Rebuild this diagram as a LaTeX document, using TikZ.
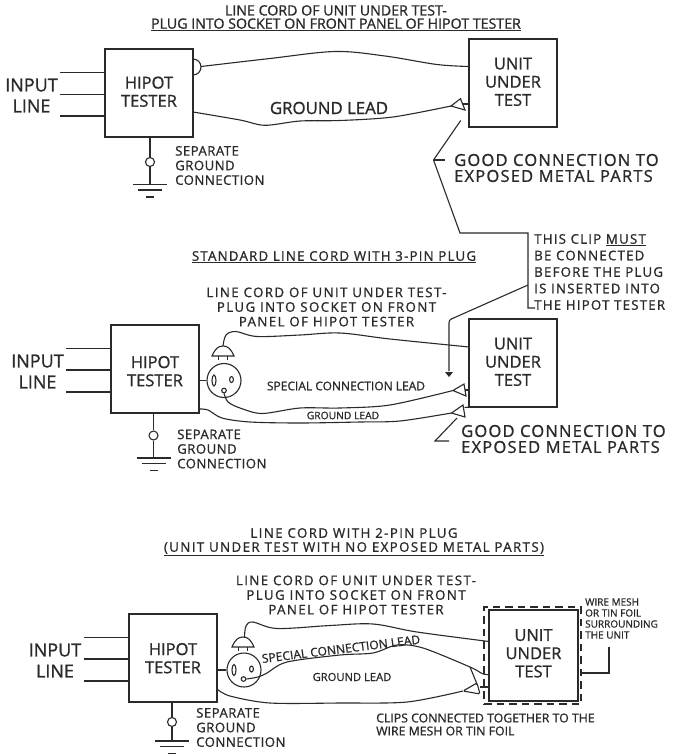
\documentclass[tikz,border=0pt]{standalone}
\usepackage{fontspec}
\setmainfont[FakeBold=1]{Open Sans}
\newfontfamily\lsa[LetterSpace=3.5,FakeBold=1]{Open Sans}
\newfontfamily\lsfont[LetterSpace=9,FakeBold=1]{Open Sans}
\newfontfamily\lswide[LetterSpace=10.5,FakeBold=1]{Open Sans}
\newfontfamily\lsbig[LetterSpace=7.3,FakeBold=1]{Open Sans}
\definecolor{ink}{HTML}{2A2A2A}
\newcommand{\boxtext}[2]{\raisebox{#1}[\height][\depth]{\begin{tabular}{@{}c@{}}#2\end{tabular}}}
\tikzset{
  every picture/.style={x=1pt,y=-1pt},
  lw/.style={line width=1.1pt,draw=ink},
  boxn/.style={draw=ink,line width=1.4pt,minimum width=88pt,minimum height=88pt,inner sep=0pt,text=ink,align=center,
     font=\fontsize{16.5}{18.2}\selectfont},
  txt/.style={inner sep=0pt,text=ink,align=center},
  txl/.style={inner sep=0pt,text=ink,align=left,anchor=west},
  hole/.style={circle,draw=ink,line width=1.1pt,inner sep=0pt,minimum size=9pt},
  pin/.style={circle,draw=ink,line width=1.1pt,inner sep=0pt,minimum size=4.6pt},
  sock/.style={circle,draw=ink,line width=1.1pt,inner sep=0pt,minimum size=34pt},
  big/.style={font=\fontsize{18}{21}\selectfont},
  sep/.style={font=\lsa\fontsize{13.2}{14.6}\selectfont},
  cord/.style={font=\lswide\fontsize{13.3}{14.6}\selectfont},
  good/.style={font=\lsbig\fontsize{16.5}{16}\selectfont},
}
\newcommand{\gndsym}[3]{% name, x, y of top bar
  \draw[lw] (#2-17,#3)--(#2+17,#3) (#2-12,#3+5.5)--(#2+12,#3+5.5) (#2-4,#3+12.5)--(#2+4,#3+12.5);
}
\newcommand{\plugsym}[2]{% x, y of dome top
  \draw[lw] (#1-11,#2+10) .. controls (#1-8,#2+3) and (#1-5,#2) .. (#1,#2) .. controls (#1+5,#2) and (#1+8,#2+3) .. (#1+11,#2+10) -- cycle;
  \draw[lw] (#1-4.5,#2+10)--(#1-4.5,#2+14) (#1+4.5,#2+10)--(#1+4.5,#2+14);
}
\newcommand{\slots}[2]{% centre of socket
  \draw[lw] (#1-10,#2) ellipse (2 and 5.5);
  \draw[lw] (#1+7.5,#2-1) ellipse (1.9 and 3);
}
\begin{document}
\begin{tikzpicture}
\useasboundingbox (0,0) rectangle (673,755);
\fill[white] (0,0) rectangle (673,755);

%%%%% PANEL 1
\node[txt,font=\fontsize{14.2}{13.2}\selectfont] (t1) at (336,18) {LINE CORD OF UNIT UNDER TEST-\\\underline{PLUG INTO SOCKET ON FRONT PANEL OF HIPOT TESTER}};
\node[boxn] (h1) at (149,93) {\boxtext{-1pt}{HIPOT\\TESTER}};
\node[boxn] (u1) at (513,83) {\boxtext{-1pt}{UNIT\\UNDER\\TEST}};
\node[txt,big] (i1) at (31.5,95.5) {INPUT\\LINE};
\node[txt,font=\fontsize{16.8}{18}\selectfont] (gl1) at (329,108) {GROUND LEAD};
\node[txl,sep] (s1) at (175,165.5) {SEPARATE\\GROUND\\CONNECTION};
\node[txl,good] (g1) at (454,168) {GOOD CONNECTION TO\\EXPOSED METAL PARTS};
\foreach \k/\yy in {a/72.5,b/94.5,c/116}{
  \coordinate (i1\k) at (60,\yy);
  \draw[lw] (i1\k) -- (h1.west |- i1\k);
}
% socket half circle
\coordinate (d1a) at (193,59);
\draw[lw] (d1a) arc[start angle=-90,end angle=90,radius=8];
\coordinate (w1s) at (201,66.5);
\coordinate (w1e) at (469,66.5);
\draw[lw] plot[smooth,tension=.55] coordinates {(w1s) (270,58.5) (335,51.5) (385,56) (437,64.5) (w1e)};
% ground lead and clip
\coordinate (w2s) at (193,112);
\coordinate (c1a) at (451,106);
\coordinate (c1b) at (460.5,98.7);
\coordinate (c1c) at (465,110);
\coordinate (c1d) at (463,104);
\coordinate (c1e) at (469,104);
\draw[lw] plot[smooth,tension=.5] coordinates {(w2s) (240,120) (265,125.3) (300,121) (340,120.5) (393,117) (c1a)};
\draw[lw] (c1a) -- (c1b) -- (c1c) -- cycle;
\draw[lw] (c1d) -- (c1e);
% earth
\node[hole] (p1) at (150,162) {};
\coordinate (e1) at (150,184.5);
\draw[lw] (h1.south -| p1) -- (p1);
\draw[lw] (p1) -- (e1);
\gndsym{e1}{150}{184.5}
% annotation leader
\coordinate (a1) at (460.7,120.5);
\coordinate (a2) at (433.5,160);
\coordinate (a3) at (445,160);
\coordinate (a4) at (460,233);
\coordinate (a5) at (528,233);
\coordinate (a6) at (528,308);
\coordinate (a7) at (535,308);
\coordinate (a8) at (528,285);
\coordinate (a9) at (449,320);
\coordinate (a10) at (449,377);
\draw[lw] (a1) -- (a2) -- (a4) -- (a5) -- (a6) -- (a7);
\draw[lw] (a2) -- (a3);
\draw[lw,rounded corners=2.5pt] (a8) -- (a9) -- (449,371);
\fill[ink] (a10) -- (445,372) -- (453,372) -- cycle;
\node[txl,font=\lsfont\fontsize{13.3}{16.5}\selectfont] (n1) at (534,272) {THIS CLIP \underline{MUST}\\BE CONNECTED\\BEFORE THE PLUG\\IS INSERTED INTO\\THE HIPOT TESTER};

%%%%% PANEL 2
\node[txt,font=\lsfont\fontsize{13.3}{14}\selectfont] (t2) at (334,257) {\underline{STANDARD LINE CORD WITH 3-PIN PLUG}};
\node[txt,cord] (c2) at (326.5,307) {LINE CORD OF UNIT UNDER TEST-\\PLUG INTO SOCKET ON FRONT\\PANEL OF HIPOT TESTER};
\node[boxn] (h2) at (155,369) {\boxtext{-4.5pt}{HIPOT\\TESTER}};
\node[boxn] (u2) at (513,363) {\boxtext{-1pt}{UNIT\\UNDER\\TEST}};
\node[txt,big] (i2) at (37.5,371.5) {INPUT\\LINE};
\node[txt,font=\fontsize{12}{12}\selectfont] (sl2) at (346,386) {SPECIAL CONNECTION LEAD};
\node[txt,font=\fontsize{10.3}{12}\selectfont] (gl2) at (343,415.5) {GROUND LEAD};
\node[txl,sep] (s2) at (177,449) {SEPARATE\\GROUND\\CONNECTION};
\node[txl,good] (g2) at (461,439) {GOOD CONNECTION TO\\EXPOSED METAL PARTS};
\foreach \k/\yy in {a/348.5,b/370,c/392}{
  \coordinate (i2\k) at (66,\yy);
  \draw[lw] (i2\k) -- (h2.west |- i2\k);
}
\node[sock] (k2) at (224,380.5) {};
\draw[lw] (h2.east |- k2) -- (k2);
\slots{224}{380.5}
\node[pin] (kh2) at (224,390.5) {};
\plugsym{223}{346}
\coordinate (pt2) at (223,346);
\coordinate (w3e) at (469,347);
\draw[lw] plot[smooth,tension=.55] coordinates {(pt2) (226,335) (236,331.5) (257,336.5) (300,335) (340,333) (390,339) (w3e)};
\coordinate (c2a) at (453,390.5);
\coordinate (c2b) at (464,384);
\coordinate (c2c) at (466,396);
\coordinate (c2d) at (465,390);
\coordinate (c2e) at (469,390);
\draw[lw] plot[smooth,tension=.5] coordinates {(kh2.south) (228,402) (240,408) (262,413.5) (300,408) (340,408) (390,405) (c2a)};
\draw[lw] (c2a) -- (c2b) -- (c2c) -- cycle;
\draw[lw] (c2d) -- (c2e);
\coordinate (w4s) at (199,409);
\coordinate (c3a) at (451.5,413);
\coordinate (c3b) at (463,405);
\coordinate (c3c) at (465,417);
\coordinate (c3d) at (464.5,407.5);
\coordinate (c3e) at (470,407);
\draw[lw] plot[smooth,tension=.5] coordinates {(w4s) (208,410) (222,418) (250,422) (300,423) (360,422) (400,421) (c3a)};
\draw[lw] (c3a) -- (c3b) -- (c3c) -- cycle;
\draw[lw] (c3d) -- (c3e);
\node[hole] (p2) at (153.5,435.5) {};
\coordinate (e2) at (153.5,458);
\draw[lw] (h2.south -| p2) -- (p2);
\draw[lw] (p2) -- (e2);
\gndsym{e2}{153.5}{458}
\coordinate (b1) at (457,418);
\coordinate (b2) at (435,441);
\coordinate (b3) at (449,441);
\draw[lw] (b1) -- (b2) -- (b3);

%%%%% PANEL 3
\node[txt,font=\lswide\fontsize{13.3}{14}\selectfont] (t3) at (354,542) {LINE CORD WITH 2-PIN PLUG\\\underline{(UNIT UNDER TEST WITH NO EXPOSED METAL PARTS)}};
\node[txt,cord] (c3) at (356,595) {LINE CORD OF UNIT UNDER TEST-\\PLUG INTO SOCKET ON FRONT\\PANEL OF HIPOT TESTER};
\node[boxn] (h3) at (173,658) {\boxtext{-2.5pt}{HIPOT\\TESTER}};
\node[boxn,minimum width=89pt,minimum height=91pt] (u3) at (533.5,655.5) {\boxtext{0pt}{UNIT\\UNDER\\TEST}};
\node[inner sep=0pt,draw=ink,line width=1.1pt,dash pattern=on 7.5pt off 5pt,minimum width=97pt,minimum height=97pt] (m3) at (532.5,655.5) {};
\node[txt,big] (i3) at (55,660.5) {INPUT\\LINE};
\node[txt,font=\fontsize{12.1}{13}\selectfont,rotate=7] (sl3) at (341,649) {SPECIAL CONNECTION LEAD};
\node[txt,font=\fontsize{11.2}{12}\selectfont] (gl3) at (352,677) {GROUND LEAD};
\node[txl,sep] (s3) at (196,727.5) {SEPARATE\\GROUND\\CONNECTION};
\node[txl,font=\fontsize{10}{11}\selectfont] (wm3) at (585,618.5) {WIRE MESH\\OR TIN FOIL\\SURROUNDING\\THE UNIT};
\node[txl,font=\fontsize{12.3}{13}\selectfont] (cc3) at (376,724.5) {CLIPS CONNECTED TOGETHER TO THE\\WIRE MESH OR TIN FOIL};
\foreach \k/\yy in {a/637.5,b/659,c/681}{
  \coordinate (i3\k) at (84,\yy);
  \draw[lw] (i3\k) -- (h3.west |- i3\k);
}
\node[sock] (k3) at (244,670) {};
\draw[lw] (h3.east |- k3) -- (k3);
\slots{244}{670}
\node[pin] (kh3) at (243.5,679) {};
\plugsym{243}{637}
\coordinate (pt3) at (244.5,637);
\coordinate (w5e) at (489,641.5);
\draw[lw] plot[smooth,tension=.55] coordinates {(pt3) (246,626) (253,622) (277,628.5) (330,625.5) (373,624) (417,632) (w5e)};
\coordinate (c4a) at (463,691);
\coordinate (c4b) at (477,683);
\coordinate (c4c) at (480,694);
\coordinate (c4d) at (479.5,687);
\coordinate (c4e) at (488,687);
\coordinate (w6e) at (489,674.5);
\coordinate (w6j) at (470,667);
\coordinate (w6k) at (477,684);
\draw[lw] plot[smooth,tension=.5] coordinates {(kh3.east) (258,677) (267,673) (287,662) (340,655) (373,653) (397,645) (423,648) (w6j) (483,674) (w6e)};
\draw[lw] (w6j) -- (w6k);
\draw[lw,rounded corners=1.5pt] (c4a) -- (c4b) -- (c4c) -- cycle;
\draw[lw] (c4d) -- (c4e);
\coordinate (w7s) at (217,689);
\draw[lw] plot[smooth,tension=.5] coordinates {(w7s) (230,696) (270,703) (340,703) (407,702) (c4a)};
\node[hole] (p3) at (172,722) {};
\coordinate (e3) at (172,741);
\draw[lw] (h3.south -| p3) -- (p3);
\draw[lw] (p3) -- (e3);
\gndsym{e3}{172}{741}
\coordinate (r1) at (581,673);
\coordinate (r2) at (609,673);
\coordinate (r3) at (609,647);
\draw[lw] (r1) -- (r2) -- (r3);
\end{tikzpicture}
\end{document}
